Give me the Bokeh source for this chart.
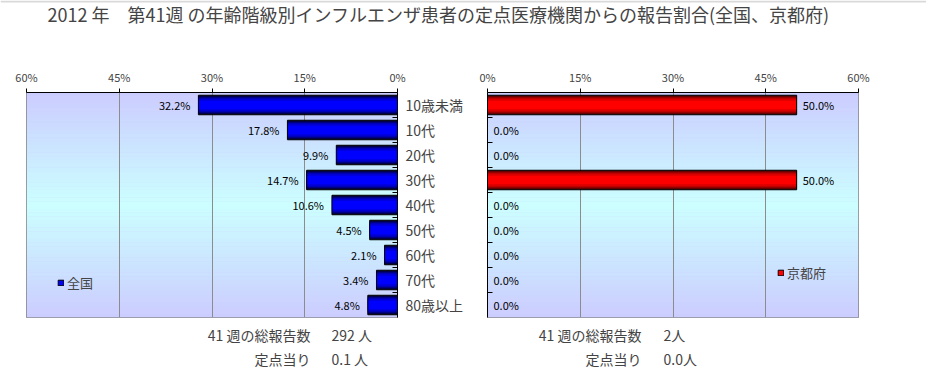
from bokeh.plotting import figure
from bokeh.layouts import column, row
from bokeh.models import (Range1d, FixedTicker, PrintfTickFormatter, Label,
                          Legend, LegendItem, BoxAnnotation, ColumnDataSource, Span)
from bokeh.core.properties import value
from bokeh.embed import file_html
from bokeh.resources import INLINE

# ---------------- data ----------------
year = 2012
week = 41
categories = ["10歳未満", "10代", "20代", "30代", "40代", "50代", "60代", "70代", "80歳以上"]
national = [32.2, 17.8, 9.9, 14.7, 10.6, 4.5, 2.1, 3.4, 4.8]
kyoto = [50.0, 0.0, 0.0, 50.0, 0.0, 0.0, 0.0, 0.0, 0.0]
x_ticks = [0, 15, 30, 45, 60]
region_names = ["全国", "京都府"]
national_total = "292 人"
national_per_site = "0.1 人"
kyoto_total = "2人"
kyoto_per_site = "0.0人"
footer_heads = [f"{week} 週の総報告数", "定点当り"]

FONT = "Noto Sans CJK JP"
title_text = f"{year} 年　第{week}週 の年齢階級別インフルエンザ患者の定点医療機関からの報告割合(全国、京都府)"

centers = list(range(len(categories)))
bounds = [i + 0.5 for i in range(len(categories) - 1)]

PANEL_H = 292


def lerp(c0, c1, t):
    return "#%02x%02x%02x" % tuple(int(round(a + (b - a) * t)) for a, b in zip(c0, c1))


def make_panel(vals, reverse, width, b_left, b_right, y_loc, bar_dark, bar_bright,
               label_offset, label_align, legend_name, legend_loc):
    p = figure(width=width, height=PANEL_H, output_backend="svg", toolbar_location=None,
               x_range=Range1d(60, 0) if reverse else Range1d(0, 60),
               y_range=Range1d(len(categories) - 0.5, -0.5),
               x_axis_location="above", y_axis_location=y_loc,
               min_border_left=b_left, min_border_right=b_right,
               min_border_top=62, min_border_bottom=5)
    p.background_fill_color = "#ccccff"
    p.border_fill_color = "white"
    p.outline_line_color = "#808080"
    p.outline_line_width = 1

    # background gradient bands
    n = 60
    y0, y1 = -0.5, len(categories) - 0.5
    step = (y1 - y0) / n
    top_c, mid_c = (204, 204, 255), (204, 255, 255)
    for i in range(n):
        yc = y0 + (i + 0.5) * step
        t = 1 - abs((yc - y0) / (y1 - y0) - 0.5) * 2
        p.add_layout(BoxAnnotation(top=y0 + i * step, bottom=y0 + (i + 1) * step + 0.01,
                                   fill_color=lerp(top_c, mid_c, t), fill_alpha=1,
                                   line_alpha=0, level="image"))

    # grid
    p.xgrid.ticker = FixedTicker(ticks=x_ticks)
    p.xgrid.grid_line_color = "#8c8c8c"
    p.ygrid.grid_line_color = None

    # x axis
    xa = p.xaxis[0]
    xa.ticker = FixedTicker(ticks=x_ticks)
    xa.formatter = PrintfTickFormatter(format="%d%%")
    xa.major_tick_out = 4
    xa.major_tick_in = 0
    xa.minor_tick_line_color = None
    xa.axis_line_color = "black"
    xa.major_tick_line_color = "black"
    xa.major_label_text_font = FONT
    xa.major_label_text_font_size = "11px"
    xa.major_label_standoff = 4

    # y axis
    ya = p.yaxis[0]
    ya.major_tick_line_color = None
    ya.minor_tick_line_color = "black"
    ya.minor_tick_in = 5
    ya.minor_tick_out = 0
    ya.axis_line_color = "black"
    if y_loc == "right":
        ya.ticker = FixedTicker(ticks=centers, minor_ticks=bounds)
        ya.major_label_overrides = {i: c for i, c in enumerate(categories)}
        ya.major_label_text_font = FONT
        ya.major_label_text_font_size = "14px"
        ya.major_label_standoff = 2
    else:
        ya.ticker = FixedTicker(ticks=[], minor_ticks=bounds)
        ya.major_label_standoff = 0

    # bars with vertical gradient (layers)
    src = ColumnDataSource(dict(y=centers, v=vals,
                                lab=["%.1f%%" % v for v in vals]))
    bh = 0.78
    layers = [(1.0, 0.0), (0.88, 0.35), (0.74, 0.65), (0.58, 0.86), (0.42, 1.0)]
    bright = None
    for k, (hf, t) in enumerate(layers):
        col = lerp(bar_dark, bar_bright, t)
        bright = p.hbar(y="y", left=0, right="v", height=bh * hf, source=src,
                        fill_color=col, line_color=None)
    outline = p.hbar(y="y", left=0, right="v", height=bh, source=src,
                     fill_color=None, line_color="black", line_width=1)

    # data labels
    p.text(x="v", y="y", text="lab", source=src, x_offset=label_offset,
           text_align=label_align, text_baseline="middle",
           text_font=value(FONT), text_font_size="11px", text_color="black")

    # legend
    leg = Legend(items=[LegendItem(label=legend_name, renderers=[bright, outline])],
                 location=legend_loc, glyph_width=7, glyph_height=7,
                 label_standoff=3, padding=0, margin=0, spacing=0,
                 border_line_alpha=0, background_fill_alpha=0,
                 label_text_font=FONT, label_text_font_size="13px",
                 label_height=14)
    p.add_layout(leg)
    return p


left = make_panel(national, True, 478, 26, 81, "right", (0, 0, 40), (0, 0, 255),
                  -8, "right", region_names[0], (31, 25))
right = make_panel(kyoto, False, 448, 9, 68, "left", (70, 0, 0), (255, 0, 0),
                   6, "left", region_names[1], (290, 35))


def blank(width, height):
    f = figure(width=width, height=height, output_backend="svg", toolbar_location=None,
               x_axis_type=None, y_axis_type=None, x_range=Range1d(0, 1),
               y_range=Range1d(0, 1), min_border=0)
    f.outline_line_color = None
    f.grid.grid_line_color = None
    return f


HEAD_H = 30
head = blank(926, HEAD_H)
head.add_layout(Span(location=HEAD_H - 1, location_units="screen", dimension="width",
                     line_color="#d9d9d9", line_width=2))
head.add_layout(Label(x=438, y=HEAD_H - 13, x_units="screen", y_units="screen", text=title_text,
                      text_align="center", text_baseline="middle",
                      text_font=FONT, text_font_size="18px"))

FOOT_H = 372 - HEAD_H - PANEL_H
foot = blank(926, FOOT_H)
row_y = [FOOT_H - 12, FOOT_H - 36]
for (hx, vx), vals in [((310, 331), [national_total, national_per_site]),
                       ((641, 663), [kyoto_total, kyoto_per_site])]:
    for yy, h, v in zip(row_y, footer_heads, vals):
        foot.add_layout(Label(x=hx, y=yy, x_units="screen", y_units="screen", text=h,
                              text_align="right", text_baseline="middle",
                              text_font=FONT, text_font_size="14px"))
        foot.add_layout(Label(x=vx, y=yy, x_units="screen", y_units="screen", text=v,
                              text_align="left", text_baseline="middle",
                              text_font=FONT, text_font_size="14px"))

layout = column(head, row(left, right), foot)
open("out.html", "w").write(file_html(layout, INLINE))
